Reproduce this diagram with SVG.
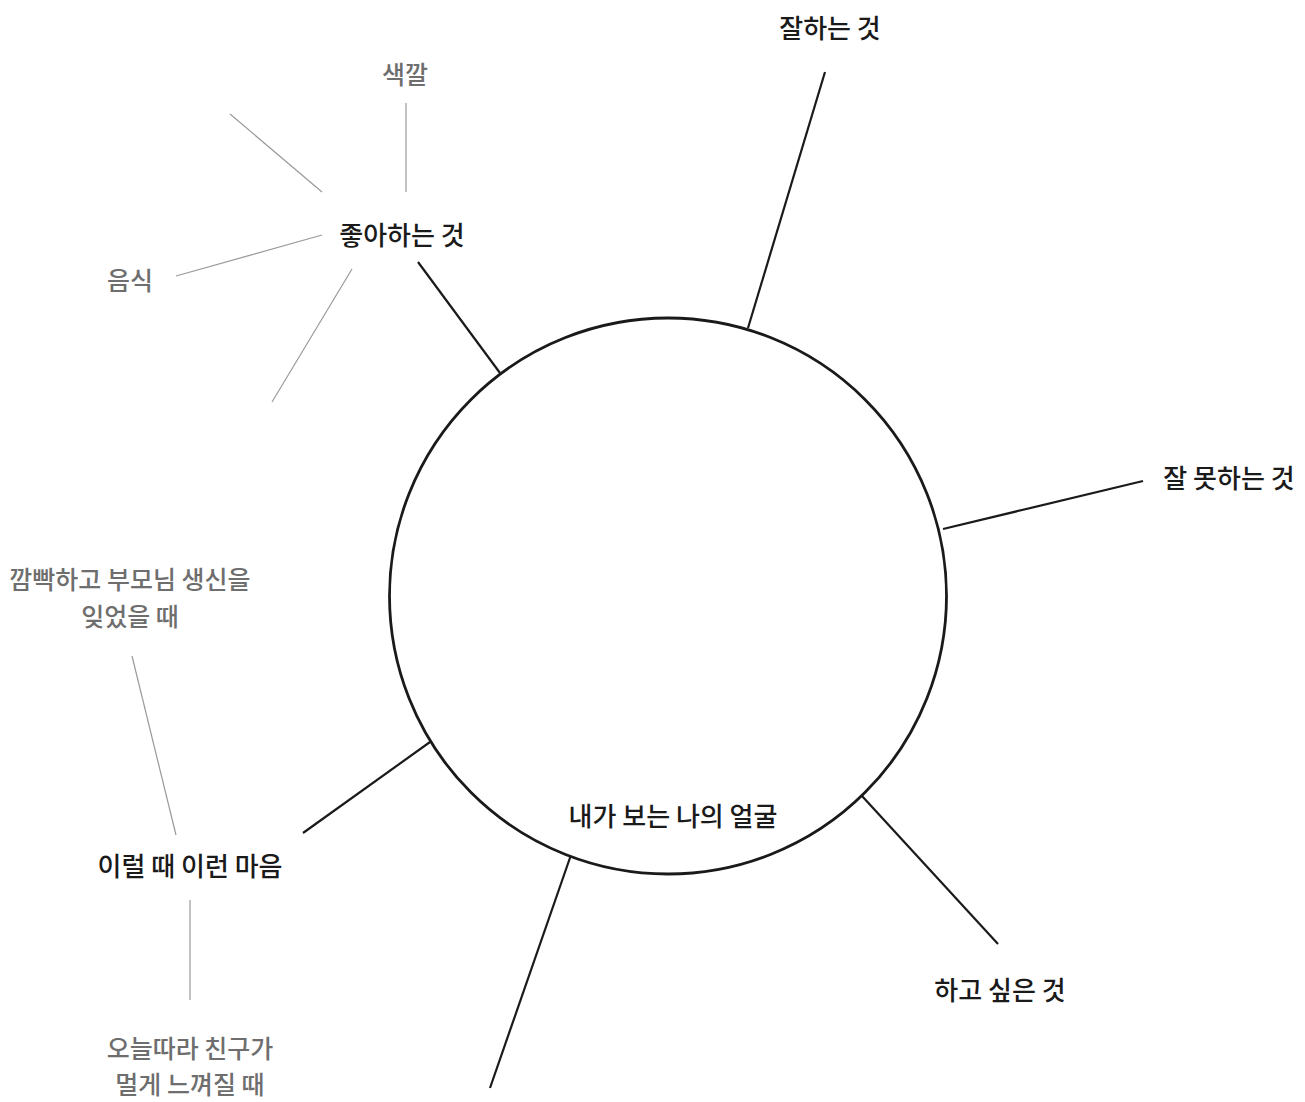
<svg xmlns="http://www.w3.org/2000/svg" width="1305" height="1102" viewBox="0 0 1305 1102">
<style>
text{font-family:"Noto Sans CJK KR","Noto Sans",sans-serif;text-anchor:middle;font-size:26px;font-weight:500}
.main{fill:#1a1a1a}
.sub{fill:#6e6e6e;font-size:25px}
.dark{stroke:#1a1a1a;stroke-width:2.2;fill:none}
.light{stroke:#9a9a9a;stroke-width:1.2;fill:none}
</style>
<rect width="1305" height="1102" fill="#fff"/>
<g id="connectors">
<line class="dark" x1="418" y1="262" x2="500" y2="373"/>
<line class="dark" x1="825" y1="72" x2="748" y2="328"/>
<line class="dark" x1="1143" y1="481" x2="943" y2="529"/>
<line class="dark" x1="862" y1="796" x2="998" y2="944"/>
<line class="dark" x1="572" y1="852" x2="490" y2="1088"/>
<line class="dark" x1="437" y1="737" x2="303" y2="833"/>
<line class="light" x1="406" y1="103" x2="406" y2="192"/>
<line class="light" x1="230" y1="114" x2="322" y2="192"/>
<line class="light" x1="176" y1="276" x2="322" y2="235"/>
<line class="light" x1="352" y1="269" x2="272" y2="402"/>
<line class="light" x1="132" y1="656" x2="176" y2="835"/>
<line class="light" x1="190" y1="900" x2="190" y2="1000"/>
</g>
<g id="face">
<ellipse cx="668" cy="596" rx="278.5" ry="278" fill="#fff" stroke="#1a1a1a" stroke-width="2.8"/>
<text class="main" x="673" y="826">내가 보는 나의 얼굴</text>
</g>
<g id="likes"><text class="main" x="402" y="245">좋아하는 것</text></g>
<g id="color"><text class="sub" x="405" y="84">색깔</text></g>
<g id="food"><text class="sub" x="130" y="290">음식</text></g>
<g id="good"><text class="main" x="830" y="38">잘하는 것</text></g>
<g id="bad"><text class="main" x="1229" y="488">잘 못하는 것</text></g>
<g id="want"><text class="main" x="1000" y="1000">하고 싶은 것</text></g>
<g id="mood"><text class="main" x="190" y="876">이럴 때 이런 마음</text></g>
<g id="forgot"><text class="sub" x="130" y="589">깜빡하고 부모님 생신을</text><text class="sub" x="130" y="626">잊었을 때</text></g>
<g id="friend"><text class="sub" x="190" y="1058">오늘따라 친구가</text><text class="sub" x="190" y="1094">멀게 느껴질 때</text></g>
</svg>
